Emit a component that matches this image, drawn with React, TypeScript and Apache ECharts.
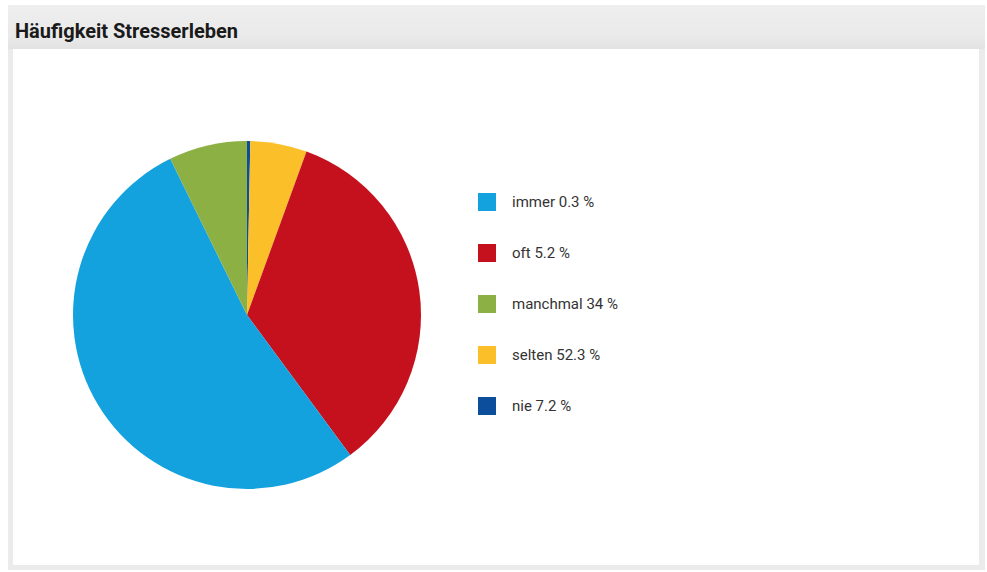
import React, { useEffect, useRef } from "react";
import * as echarts from "echarts";

const titleText = "Häufigkeit Stresserleben";
const categories = ["immer", "oft", "manchmal", "selten", "nie"];
const values = [0.3, 5.2, 34, 52.3, 7.2];
// colours as drawn in the pie slices
const sliceColors = ["#0c4d9c", "#fbbf2a", "#c5101d", "#14a2df", "#8cb043"];
// colours as drawn in the legend keys
const legendColors = ["#14a2df", "#c5101d", "#8cb043", "#fbbf2a", "#0c4d9c"];

export default function App() {
  const ref = useRef<HTMLDivElement>(null);
  useEffect(() => {
    if (!ref.current) return;
    const chart = echarts.init(ref.current, undefined, { renderer: "svg" });
    const valueMap: Record<string, number> = {};
    categories.forEach((c, i) => (valueMap[c] = values[i]));
    chart.setOption({
      animation: false,
      backgroundColor: "#ffffff",
      graphic: [
        {
          type: "rect",
          z: -10,
          shape: { x: 8, y: 5, width: 977, height: 565 },
          style: { fill: "#ebebeb" },
          silent: true,
        },
        {
          type: "rect",
          z: -9,
          shape: { x: 8, y: 5, width: 977, height: 44 },
          style: {
            fill: new echarts.graphic.LinearGradient(0, 0, 0, 1, [
              { offset: 0, color: "#eeeeee" },
              { offset: 0.7, color: "#eaeaea" },
              { offset: 1, color: "#e2e2e2" },
            ]),
          },
          silent: true,
        },
        {
          type: "rect",
          z: -8,
          shape: { x: 13, y: 49, width: 966, height: 516 },
          style: { fill: "#ffffff" },
          silent: true,
        },
      ],
      title: {
        text: titleText,
        left: 15,
        top: 21,
        padding: 0,
        textStyle: {
          fontFamily: "Roboto",
          fontWeight: "bold",
          fontSize: 20,
          color: "#1a1a1a",
        },
      },
      legend: {
        orient: "vertical",
        left: 478,
        top: 193,
        padding: 0,
        itemWidth: 18,
        itemHeight: 18,
        itemGap: 33,
        icon: "rect",
        selectedMode: false,
        data: categories.map((c, i) => ({
          name: c,
          itemStyle: { color: legendColors[i] },
        })),
        formatter: (name: string) => `${name} ${valueMap[name]} %`,
        textStyle: {
          fontFamily: "Roboto",
          fontSize: 15,
          color: "#333333",
          padding: [0, 0, 0, 11],
        },
      },
      series: [
        {
          type: "pie",
          center: [247, 315],
          radius: [0, 174],
          startAngle: 90,
          clockwise: true,
          label: { show: false },
          labelLine: { show: false },
          emphasis: { disabled: true },
          itemStyle: { borderWidth: 0 },
          data: categories.map((c, i) => ({
            name: c,
            value: values[i],
            itemStyle: { color: sliceColors[i] },
          })),
        },
      ],
    });
    return () => chart.dispose();
  }, []);
  return (
    <div
      ref={ref}
      style={{ position: "fixed", left: 0, top: 0, width: 987, height: 572 }}
    />
  );
}
